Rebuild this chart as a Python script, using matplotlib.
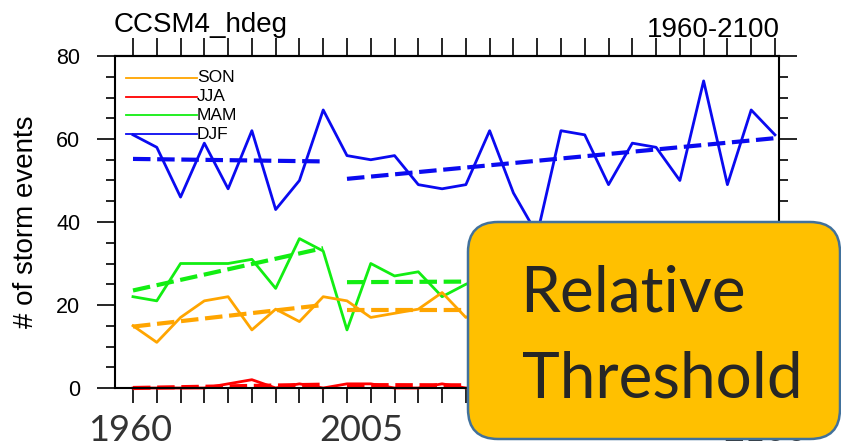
import numpy as np
import matplotlib
matplotlib.use("Agg")
import matplotlib.pyplot as plt
from matplotlib.patches import FancyBboxPatch
from matplotlib.transforms import IdentityTransform
from matplotlib.ticker import MultipleLocator

# ---------------- data ----------------
seasons = ["SON", "JJA", "MAM", "DJF"]
colors = {"SON": "#ffa500", "JJA": "#ff0000", "MAM": "#12ee12", "DJF": "#0a0af0"}

djf = [61, 58, 46, 59, 48, 62, 43, 50, 67, 56, 55, 56, 49, 48, 49, 62, 47, 37,
       62, 61, 49, 59, 58, 50, 74, 49, 67, 61]
mam = [22, 21, 30, 30, 30, 31, 24, 36, 33, 14, 30, 27, 28, 22, 25, 27, 24, 26,
       23, 28, 25, 27, 24, 26, 29, 23, 27, 25]
son = [15, 11, 17, 21, 22, 14, 19, 16, 22, 21, 17, 18, 19, 23, 17, 20, 18, 21,
       17, 19, 22, 18, 20, 17, 19, 21, 18, 20]
jja = [0, 0, 0, 0, 1, 2, 0, 1, 0, 1, 1, 0, 0, 1, 0, 0, 1, 0,
       0, 1, 0, 0, 1, 0, 0, 1, 0, 0]

# trend line end values: (historical start, end), (future start, end)
trend_djf = [(55.2, 54.6), (50.4, 60.2)]
trend_mam = [(23.5, 33.7), (25.5, 26.0)]
trend_son = [(14.8, 20.0), (18.8, 18.8)]
trend_jja = [(0.0, 0.8), (0.7, 0.5)]

n_hist = 9  # first segment length
yticks = [0, 20, 40, 60, 80]
bottom_labels = ["1960", "2005", "2100"]
title_left = "CCSM4_hdeg"
title_right = "1960-2100"
ylabel = "# of storm events"

series = {"SON": son, "JJA": jja, "MAM": mam, "DJF": djf}
trends = {"SON": trend_son, "JJA": trend_jja, "MAM": trend_mam, "DJF": trend_djf}

# ---------------- figure ----------------
plt.rcParams["font.family"] = ["Liberation Sans", "DejaVu Sans"]
W, H = 841, 447
fig = plt.figure(figsize=(W / 100, H / 100), dpi=100)
L, R, T, B = 115, 779, 56, 388
ax = fig.add_axes([L / W, (H - B) / H, (R - L) / W, (B - T) / H])

n = len(djf)
x = np.arange(n)
for s in ["DJF", "MAM", "SON", "JJA"]:
    c = colors[s]
    ax.plot(x, series[s], color=c, lw=2.0, clip_on=False, zorder=2)
    (a0, a1), (b0, b1) = trends[s]
    ax.plot([0, n_hist - 1], [a0, a1], color=c, lw=3.0, dashes=(4.2, 1.6),
            clip_on=False, zorder=2.2)
    ax.plot([n_hist, n - 1], [b0, b1], color=c, lw=3.0, dashes=(4.2, 1.6),
            clip_on=False, zorder=2.2)

ax.set_xlim(-0.757, 27.17)
ax.set_ylim(0, 80)
ax.set_xticks(x)
ax.set_xticklabels([])
ax.set_yticks(yticks)
ax.set_yticklabels([str(v) for v in yticks])
ax.yaxis.set_minor_locator(MultipleLocator(5))
ax.tick_params(axis="y", which="major", direction="out", length=13, width=1.2,
               right=True, labelsize=15.5, pad=12)
ax.tick_params(axis="y", which="minor", direction="out", length=6.5, width=1.2,
               right=True)
ax.tick_params(axis="x", which="major", direction="out", length=11, width=1.2,
               bottom=True, top=False)
sec = ax.secondary_xaxis("top")
sec.set_xticks(x)
sec.set_xticklabels([])
sec.tick_params(direction="out", length=12.7, width=1.2)
for sp in ax.spines.values():
    sp.set_linewidth(1.5)
sec.spines["top"].set_linewidth(1.5)

# legend (NCL-style)
lx0, lx1 = (126 - L) / (R - L), (197 - L) / (R - L)
for i, s in enumerate(seasons):
    yy = (B - (78 + i * 18.7)) / (B - T)
    ax.plot([lx0, lx1], [yy, yy], transform=ax.transAxes, color=colors[s], lw=1.3,
            clip_on=False, zorder=4)
    ax.text(lx1, yy, s, transform=ax.transAxes, ha="left", va="center",
            fontsize=12.5, zorder=4)

# titles
fig.text(114, H - 32, title_left, transform=IdentityTransform(), fontsize=20,
         ha="left", va="baseline")
fig.text(780, H - 37, title_right, transform=IdentityTransform(), fontsize=20,
         ha="right", va="baseline")
fig.text(26, (H - (T + B) / 2), ylabel, transform=IdentityTransform(), fontsize=20,
         rotation=90, ha="center", va="center")

# slide annotations
for lab, px in zip(bottom_labels, [130, 361, 765]):
    fig.text(px, H - 441, lab, transform=IdentityTransform(), fontsize=26,
             family=["Lato", "DejaVu Sans"], color="#333333", ha="center",
             va="baseline", zorder=0.5)

box = FancyBboxPatch((468, H - 439), 372, 217,
                     boxstyle="round,pad=0,rounding_size=30",
                     transform=IdentityTransform(), facecolor="#ffc000",
                     edgecolor="#41719c", lw=1.8, zorder=1)
fig.add_artist(box)
fig.text(520, H - 312, "Relative", transform=IdentityTransform(), fontsize=46,
         family=["Lato", "DejaVu Sans"], color="#262626", ha="left", va="baseline",
         zorder=3)
fig.text(522, H - 397, "Threshold", transform=IdentityTransform(), fontsize=46,
         family=["Lato", "DejaVu Sans"], color="#262626", ha="left", va="baseline",
         zorder=3)

fig.savefig("out.png", dpi=100)
